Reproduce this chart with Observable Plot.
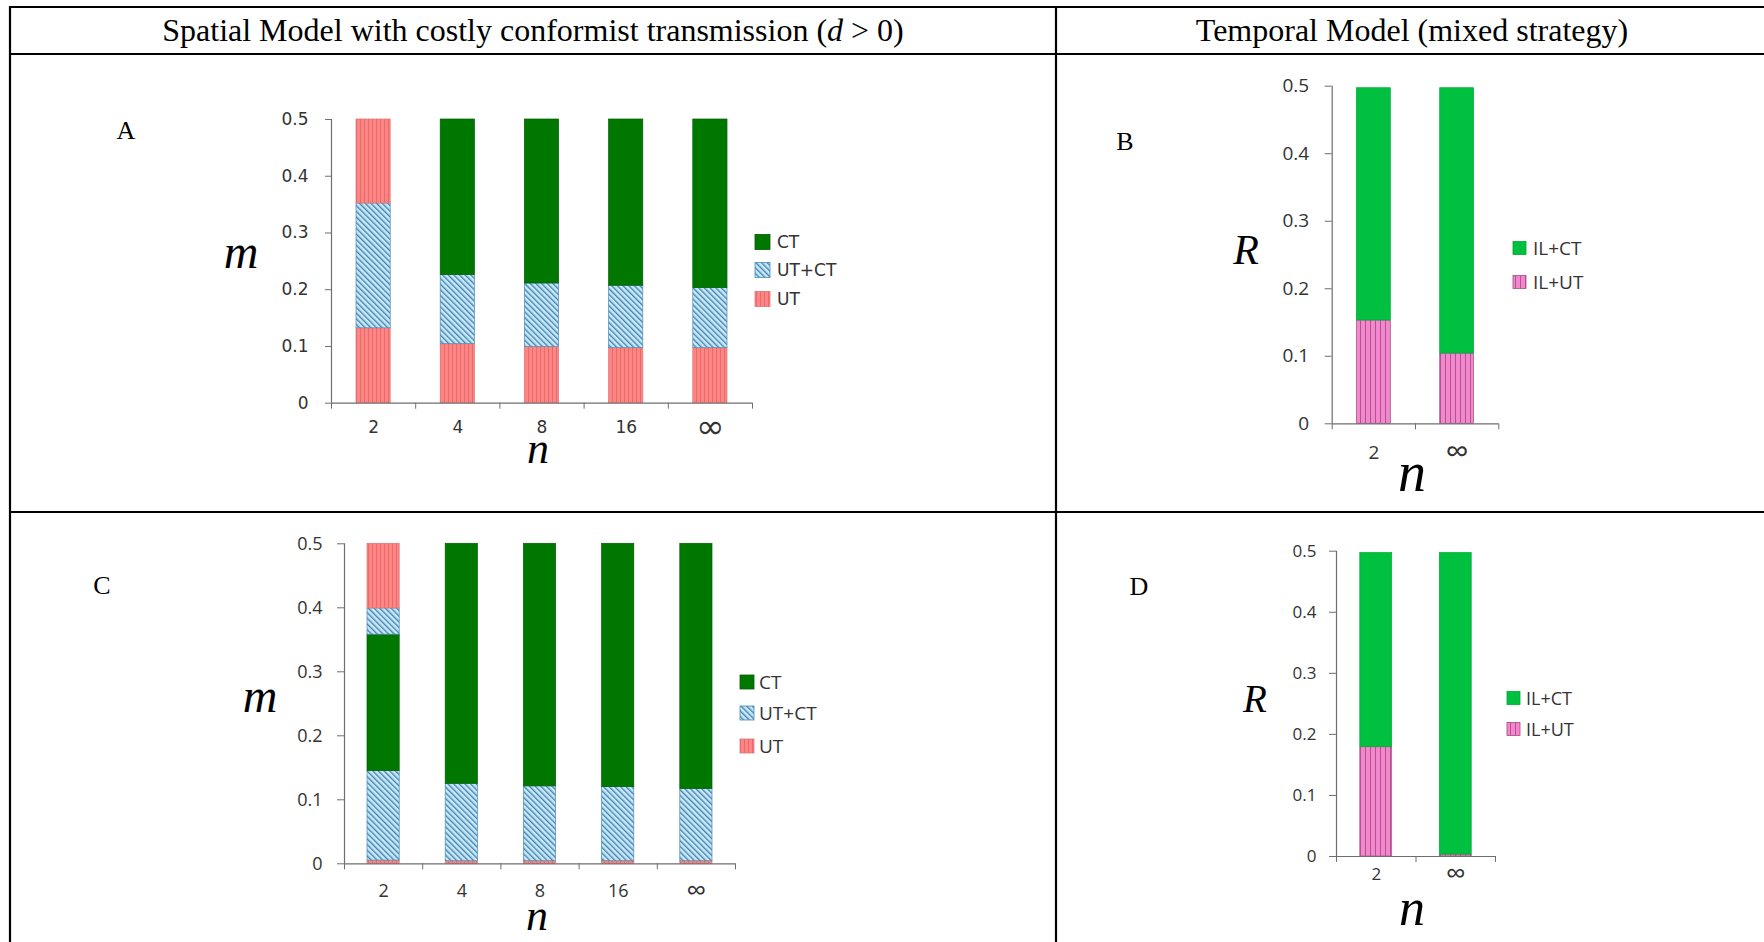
<!DOCTYPE html>
<html>
<head>
<meta charset="utf-8">
<script src="https://cdn.jsdelivr.net/npm/d3@7"></script>
<script src="https://cdn.jsdelivr.net/npm/@observablehq/plot@0.6"></script>
<style>
  html, body { margin: 0; padding: 0; background: #fff; }
  #page { position: relative; width: 1764px; height: 942px; overflow: hidden; background: #fff; }
  .panel { position: absolute; }
  #overlay { position: absolute; left: 0; top: 0; pointer-events: none; }
</style>
</head>
<body>
<div id="page">
  <div id="pA" class="panel"></div>
  <div id="pB" class="panel"></div>
  <div id="pC" class="panel"></div>
  <div id="pD" class="panel"></div>
  <svg id="overlay" width="1764" height="942" xmlns="http://www.w3.org/2000/svg">
    <defs>
      <pattern id="patUT" patternUnits="userSpaceOnUse" width="4" height="4">
        <rect width="4" height="4" fill="#ff8484"></rect>
        <rect width="0.9" height="4" fill="#e06a6a"></rect>
      </pattern>
      <pattern id="patUTCT" patternUnits="userSpaceOnUse" width="4" height="4" patternTransform="rotate(-45)">
        <rect width="4" height="4" fill="#cce8f6"></rect>
        <rect width="1.4" height="4" fill="#3f86b6"></rect>
      </pattern>
      <pattern id="patILUT" patternUnits="userSpaceOnUse" width="5" height="5">
        <rect width="5" height="5" fill="#f386cc"></rect>
        <rect width="0.9" height="5" fill="#a8508a"></rect>
      </pattern>
    </defs>
  </svg>
</div>
<script>
// ---------------- DATA ----------------
// Panel A: spatial model, m vs n (segments stacked from bottom)
const nA = ["2", "4", "8", "16", "∞"];
const A_UT_low   = [0.132, 0.104, 0.099, 0.097, 0.097];
const A_UTCT     = [0.220, 0.122, 0.112, 0.110, 0.106];
const A_CT       = [0.000, 0.274, 0.289, 0.293, 0.297];
const A_UT_high  = [0.148, 0.000, 0.000, 0.000, 0.000];

// Panel C
const nC = ["2", "4", "8", "16", "∞"];
const C_UT_low    = [0.005, 0.004, 0.004, 0.004, 0.004];
const C_UTCT_low  = [0.140, 0.121, 0.117, 0.116, 0.113];
const C_CT        = [0.213, 0.375, 0.379, 0.380, 0.383];
const C_UTCT_high = [0.041, 0.000, 0.000, 0.000, 0.000];
const C_UT_high   = [0.101, 0.000, 0.000, 0.000, 0.000];

// Panel B: temporal model, R vs n
const nB = ["2", "∞"];
const B_ILUT = [0.153, 0.104];
const B_ILCT = [0.344, 0.393];

// Panel D
const nD = ["2", "∞"];
const D_ILUT = [0.179, 0.003];
const D_ILCT = [0.318, 0.494];

const yTicks = [0, 0.1, 0.2, 0.3, 0.4, 0.5];
const legendA = ["CT", "UT+CT", "UT"];
const legendB = ["IL+CT", "IL+UT"];

// ---------------- STYLE ----------------
const PAINT = {
  "UT": "url(#patUT)", "UT+CT": "url(#patUTCT)", "CT": "#007800",
  "IL+CT": "#00c040", "IL+UT": "url(#patILUT)"
};
const EDGE = {
  "UT": "#e07474", "UT+CT": "#4a8ab5", "CT": "#005c00",
  "IL+CT": "#00a834", "IL+UT": "#a05080"
};

function buildRows(cats, layers) {
  const rows = [];
  cats.forEach((c, i) => {
    let acc = 0;
    layers.forEach(([key, vals]) => {
      const v = vals[i];
      if (v > 0) rows.push({cat: c, x1: i, x2: i + 1, y1: acc, y2: acc + v, key});
      acc += v;
    });
  });
  return rows;
}

function panel(el, cfg) {
  const n = cfg.cats.length;
  const rows = buildRows(cfg.cats, cfg.layers);
  const centers = d3.range(n).map(i => i + 0.5);
  const chart = Plot.plot({
    width: cfg.width, height: cfg.height,
    marginLeft: cfg.ml, marginRight: cfg.mr, marginTop: cfg.mt, marginBottom: cfg.mb,
    x: {domain: [0, n], axis: null, label: null},
    y: {domain: [0, 0.5], axis: null, label: null},
    color: {type: "identity"},
    style: {fontFamily: cfg.font, fontSize: cfg.fontSize + "px", color: "#333", background: "transparent", overflow: "visible"},
    marks: [
      Plot.rect(rows, {x1: "x1", x2: "x2", y1: "y1", y2: "y2",
        fill: d => PAINT[d.key], stroke: d => EDGE[d.key], strokeWidth: 0.7,
        insetLeft: cfg.inset, insetRight: cfg.inset}),
      Plot.ruleX([0], {stroke: "#6e6e6e", strokeWidth: 1.2}),
      Plot.ruleY([0], {stroke: "#6e6e6e", strokeWidth: 1.2}),
      Plot.axisY({ticks: yTicks, tickFormat: d => d === 0 ? "0" : d.toFixed(1),
        tickSize: cfg.tickY, tickPadding: cfg.padY, stroke: "#6e6e6e", label: null}),
      Plot.axisX({ticks: d3.range(n + 1), tickFormat: () => "", tickSize: 6, stroke: "#6e6e6e", label: null}),
      Plot.text(centers, {x: d => d, y: d => 0, text: d => cfg.cats[Math.floor(d)],
        fontSize: d => cfg.cats[Math.floor(d)] === "∞" ? cfg.infSize : cfg.fontSize,
        lineAnchor: "middle", dy: cfg.labDy, fill: "#333"})
    ]
  });
  el.appendChild(chart);
  el.style.left = cfg.left + "px";
  el.style.top = cfg.top + "px";
}

panel(document.getElementById("pA"), {
  cats: nA,
  layers: [["UT", A_UT_low], ["UT+CT", A_UTCT], ["CT", A_CT], ["UT", A_UT_high]],
  left: 200, top: 90, width: 600, height: 400, ml: 131, mr: 48, mt: 29, mb: 87.3,
  inset: 25, font: "DejaVu Sans", fontSize: 17, infSize: 34, tickY: 6, padY: 17, labDy: 24
});
panel(document.getElementById("pB"), {
  cats: nB,
  layers: [["IL+UT", B_ILUT], ["IL+CT", B_ILCT]],
  left: 1260, top: 60, width: 300, height: 420, ml: 71.7, mr: 61.7, mt: 25.7, mb: 56.7,
  inset: 24.7, font: "Open Sans", fontSize: 19, infSize: 33, tickY: 7, padY: 16, labDy: 29
});
panel(document.getElementById("pC"), {
  cats: nC,
  layers: [["UT", C_UT_low], ["UT+CT", C_UTCT_low], ["CT", C_CT], ["UT+CT", C_UTCT_high], ["UT", C_UT_high]],
  left: 200, top: 520, width: 600, height: 410, ml: 144, mr: 65, mt: 23.3, mb: 66.7,
  inset: 23, font: "Open Sans", fontSize: 18, infSize: 28, tickY: 7, padY: 15, labDy: 27
});
panel(document.getElementById("pD"), {
  cats: nD,
  layers: [["IL+UT", D_ILUT], ["IL+CT", D_ILCT]],
  left: 1260, top: 530, width: 300, height: 400, ml: 76, mr: 65, mt: 20.7, mb: 74,
  inset: 23.8, font: "Open Sans", fontSize: 17, infSize: 28, tickY: 7, padY: 13, labDy: 18
});

// ---------------- OVERLAY: table, headings, labels, legends ----------------
const ov = d3.select("#overlay");
const serif = "Liberation Serif, Times New Roman, serif";
// table rules
[[9, 7, 1764, 7], [9, 54, 1764, 54], [9, 512, 1764, 512], [10, 6, 10, 942], [1056, 6, 1056, 942]]
  .forEach(([x1, y1, x2, y2]) => ov.append("line").attr("x1", x1).attr("y1", y1).attr("x2", x2).attr("y2", y2)
    .attr("stroke", "#000").attr("stroke-width", 2.2));
// headers
const h1 = ov.append("text").attr("x", 533).attr("y", 41).attr("text-anchor", "middle")
  .attr("font-family", serif).attr("font-size", 32);
h1.append("tspan").text("Spatial Model with costly conformist transmission (");
h1.append("tspan").attr("font-style", "italic").text("d");
h1.append("tspan").text(" > 0)");
ov.append("text").attr("x", 1412).attr("y", 41).attr("text-anchor", "middle")
  .attr("font-family", serif).attr("font-size", 32).text("Temporal Model (mixed strategy)");
// panel letters
[["A", 126, 139], ["B", 1125, 150], ["C", 102, 594], ["D", 1139, 595]].forEach(([t, x, y]) =>
  ov.append("text").attr("x", x).attr("y", y).attr("text-anchor", "middle")
    .attr("font-family", serif).attr("font-size", 26).text(t));
// axis variable names
[["m", 241, 268, 48], ["n", 538, 463, 44], ["m", 260, 712, 48], ["n", 537, 930, 44],
 ["R", 1246, 264, 42], ["n", 1412, 491, 56], ["R", 1255, 712, 39], ["n", 1412, 925, 52]]
  .forEach(([t, x, y, s]) => ov.append("text").attr("x", x).attr("y", y).attr("text-anchor", "middle")
    .attr("font-family", serif).attr("font-style", "italic").attr("font-size", s).text(t));
// legends
function legend(keys, x, ys, size, tx, font, fs, dy) {
  keys.forEach((k, i) => {
    ov.append("rect").attr("x", x).attr("y", ys[i] - size / 2).attr("width", size).attr("height", size)
      .attr("fill", PAINT[k]).attr("stroke", EDGE[k]).attr("stroke-width", 0.8);
    ov.append("text").attr("x", tx).attr("y", ys[i] + dy).attr("font-family", font)
      .attr("font-size", fs).attr("fill", "#333").text(k);
  });
}
legend(legendA, 755, [242, 270, 299], 15, 777, "DejaVu Sans", 17, 6.2);
legend(legendB, 1513, [248, 282], 13, 1533, "Open Sans", 19, 7);
legend(legendA, 740, [682, 713, 746], 14, 759, "Open Sans", 19, 7);
legend(legendB, 1507, [698, 729], 13, 1526, "Open Sans", 18, 6.5);
</script>
</body>
</html>
